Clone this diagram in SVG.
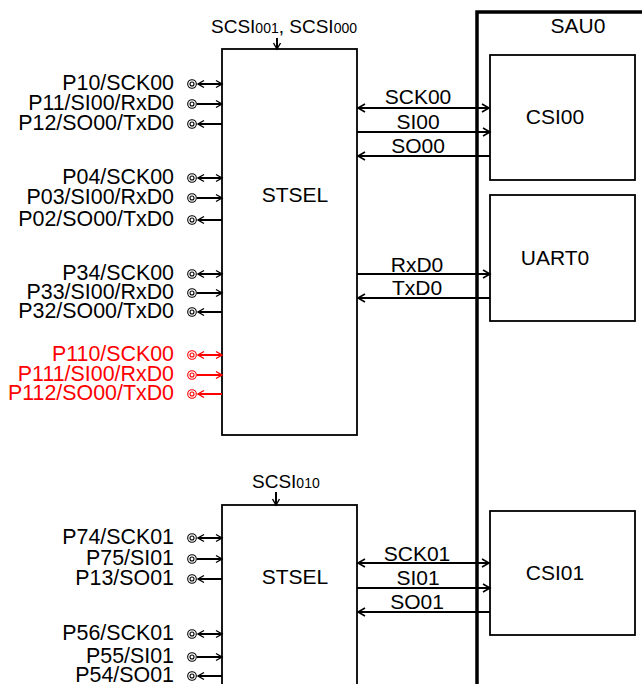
<svg xmlns="http://www.w3.org/2000/svg" width="642" height="684" viewBox="0 0 642 684">
<style>
text{font-family:"Liberation Sans",Arial,sans-serif;font-size:21px;fill:#000}
.pin{text-anchor:end;font-size:21.4px}
.red{fill:#ff0000}
.c{text-anchor:middle}
.box{fill:#fff;stroke:#000;stroke-width:1.8}
.w{stroke:#000;stroke-width:2.2;fill:none}
.pw{stroke:#000;stroke-width:2;fill:none}
.pr{stroke:#ff0000;stroke-width:2;fill:none}
.ring{fill:none;stroke:#000;stroke-width:1.1}
.ringr{fill:none;stroke:#ff0000;stroke-width:1.1}
.sm{font-size:14px}
.lbl{font-size:19px}
</style>
<defs>
<marker id="a" markerUnits="userSpaceOnUse" markerWidth="14" markerHeight="12" viewBox="-8 -6 10 12" refX="0" refY="0" orient="auto-start-reverse"><path d="M-7,-4 L0,0 L-7,4" fill="none" stroke="#000" stroke-width="1.6"/></marker>
<marker id="p" markerUnits="userSpaceOnUse" markerWidth="12" markerHeight="10" viewBox="-7 -5 9 10" refX="0" refY="0" orient="auto-start-reverse"><path d="M-6,-3.5 L0,0 L-6,3.5" fill="none" stroke="#000" stroke-width="1.4"/></marker>
<marker id="pr" markerUnits="userSpaceOnUse" markerWidth="12" markerHeight="10" viewBox="-7 -5 9 10" refX="0" refY="0" orient="auto-start-reverse"><path d="M-6,-3.5 L0,0 L-6,3.5" fill="none" stroke="#ff0000" stroke-width="1.4"/></marker>
</defs>

<g id="sau0">
<path d="M477,684 V12 H642" fill="none" stroke="#000" stroke-width="3.5"/>
<text x="578" y="33" class="c">SAU0</text>
</g>

<g id="stsel0">
<rect x="222" y="49" width="135" height="386" class="box"/>
<text x="295" y="202" class="c">STSEL</text>
</g>
<g id="stsel1">
<rect x="222" y="505" width="135" height="200" class="box"/>
<text x="295" y="584" class="c">STSEL</text>
</g>
<g id="csi00">
<rect x="490" y="55" width="145" height="125" class="box"/>
<text x="555" y="124" class="c">CSI00</text>
</g>
<g id="uart0">
<rect x="490" y="195" width="145" height="126" class="box"/>
<text x="555" y="265" class="c">UART0</text>
</g>
<g id="csi01">
<rect x="490" y="511" width="145" height="124" class="box"/>
<text x="555" y="580" class="c">CSI01</text>
</g>

<g id="sel-labels">
<text x="211" y="33" class="lbl">SCSI<tspan class="sm">001</tspan>, SCSI<tspan class="sm">000</tspan></text>
<text x="252" y="488" class="lbl">SCSI<tspan class="sm">010</tspan></text>
</g>

<g id="pins">
<text x="174" y="90" class="pin">P10/SCK00</text>
<text x="174" y="110" class="pin">P11/SI00/RxD0</text>
<text x="174" y="130" class="pin">P12/SO00/TxD0</text>
<text x="174" y="184" class="pin">P04/SCK00</text>
<text x="174" y="204" class="pin">P03/SI00/RxD0</text>
<text x="174" y="226" class="pin">P02/SO00/TxD0</text>
<text x="174" y="280" class="pin">P34/SCK00</text>
<text x="174" y="299" class="pin">P33/SI00/RxD0</text>
<text x="174" y="318" class="pin">P32/SO00/TxD0</text>
<text x="174" y="361" class="pin red">P110/SCK00</text>
<text x="174" y="381" class="pin red">P111/SI00/RxD0</text>
<text x="174" y="400" class="pin red">P112/SO00/TxD0</text>
<text x="174" y="544" class="pin">P74/SCK01</text>
<text x="174" y="565" class="pin">P75/SI01</text>
<text x="174" y="585" class="pin">P13/SO01</text>
<text x="174" y="640" class="pin">P56/SCK01</text>
<text x="174" y="663" class="pin">P55/SI01</text>
<text x="174" y="682" class="pin">P54/SO01</text>
<g>
<circle cx="192" cy="84" r="4.3" class="ring"/><circle cx="192" cy="84" r="2" class="ring"/>
<circle cx="192" cy="104" r="4.3" class="ring"/><circle cx="192" cy="104" r="2" class="ring"/>
<circle cx="192" cy="124" r="4.3" class="ring"/><circle cx="192" cy="124" r="2" class="ring"/>
<circle cx="192" cy="178" r="4.3" class="ring"/><circle cx="192" cy="178" r="2" class="ring"/>
<circle cx="192" cy="198" r="4.3" class="ring"/><circle cx="192" cy="198" r="2" class="ring"/>
<circle cx="192" cy="220" r="4.3" class="ring"/><circle cx="192" cy="220" r="2" class="ring"/>
<circle cx="192" cy="274" r="4.3" class="ring"/><circle cx="192" cy="274" r="2" class="ring"/>
<circle cx="192" cy="293" r="4.3" class="ring"/><circle cx="192" cy="293" r="2" class="ring"/>
<circle cx="192" cy="312" r="4.3" class="ring"/><circle cx="192" cy="312" r="2" class="ring"/>
<circle cx="192" cy="355" r="4.3" class="ringr"/><circle cx="192" cy="355" r="2" class="ringr"/>
<circle cx="192" cy="375" r="4.3" class="ringr"/><circle cx="192" cy="375" r="2" class="ringr"/>
<circle cx="192" cy="394" r="4.3" class="ringr"/><circle cx="192" cy="394" r="2" class="ringr"/>
<circle cx="192" cy="538" r="4.3" class="ring"/><circle cx="192" cy="538" r="2" class="ring"/>
<circle cx="192" cy="559" r="4.3" class="ring"/><circle cx="192" cy="559" r="2" class="ring"/>
<circle cx="192" cy="579" r="4.3" class="ring"/><circle cx="192" cy="579" r="2" class="ring"/>
<circle cx="192" cy="634" r="4.3" class="ring"/><circle cx="192" cy="634" r="2" class="ring"/>
<circle cx="192" cy="657" r="4.3" class="ring"/><circle cx="192" cy="657" r="2" class="ring"/>
<circle cx="192" cy="676" r="4.3" class="ring"/><circle cx="192" cy="676" r="2" class="ring"/>
</g>
</g>

<g id="connectors">
<line x1="277" y1="38" x2="277" y2="49" class="pw" marker-end="url(#p)"/>
<line x1="276" y1="492" x2="276" y2="505" class="pw" marker-end="url(#p)"/>

<line x1="198" y1="84" x2="222" y2="84" class="pw" marker-start="url(#p)" marker-end="url(#p)"/>
<line x1="197" y1="104" x2="222" y2="104" class="pw" marker-end="url(#p)"/>
<line x1="198" y1="124" x2="222" y2="124" class="pw" marker-start="url(#p)"/>
<line x1="198" y1="178" x2="222" y2="178" class="pw" marker-start="url(#p)" marker-end="url(#p)"/>
<line x1="197" y1="198" x2="222" y2="198" class="pw" marker-end="url(#p)"/>
<line x1="198" y1="220" x2="222" y2="220" class="pw" marker-start="url(#p)"/>
<line x1="198" y1="274" x2="222" y2="274" class="pw" marker-start="url(#p)" marker-end="url(#p)"/>
<line x1="197" y1="293" x2="222" y2="293" class="pw" marker-end="url(#p)"/>
<line x1="198" y1="312" x2="222" y2="312" class="pw" marker-start="url(#p)"/>
<line x1="198" y1="355" x2="222" y2="355" class="pr" marker-start="url(#pr)" marker-end="url(#pr)"/>
<line x1="197" y1="375" x2="222" y2="375" class="pr" marker-end="url(#pr)"/>
<line x1="198" y1="394" x2="222" y2="394" class="pr" marker-start="url(#pr)"/>
<line x1="198" y1="538" x2="222" y2="538" class="pw" marker-start="url(#p)" marker-end="url(#p)"/>
<line x1="197" y1="559" x2="222" y2="559" class="pw" marker-end="url(#p)"/>
<line x1="198" y1="579" x2="222" y2="579" class="pw" marker-start="url(#p)"/>
<line x1="198" y1="634" x2="222" y2="634" class="pw" marker-start="url(#p)" marker-end="url(#p)"/>
<line x1="197" y1="657" x2="222" y2="657" class="pw" marker-end="url(#p)"/>
<line x1="198" y1="676" x2="222" y2="676" class="pw" marker-start="url(#p)"/>

<line x1="358" y1="108" x2="489" y2="108" class="w" marker-start="url(#a)" marker-end="url(#a)"/>
<line x1="357" y1="132" x2="490" y2="132" class="w" marker-end="url(#a)"/>
<line x1="358" y1="156" x2="490" y2="156" class="w" marker-start="url(#a)"/>
<line x1="357" y1="274" x2="490" y2="274" class="w" marker-end="url(#a)"/>
<line x1="358" y1="298" x2="490" y2="298" class="w" marker-start="url(#a)"/>
<line x1="358" y1="563" x2="489" y2="563" class="w" marker-start="url(#a)" marker-end="url(#a)"/>
<line x1="357" y1="588" x2="490" y2="588" class="w" marker-end="url(#a)"/>
<line x1="358" y1="612" x2="490" y2="612" class="w" marker-start="url(#a)"/>

<text x="418" y="104" class="c">SCK00</text>
<text x="418" y="129" class="c">SI00</text>
<text x="418" y="153" class="c">SO00</text>
<text x="417" y="272" class="c">RxD0</text>
<text x="417" y="295" class="c">TxD0</text>
<text x="417" y="561" class="c">SCK01</text>
<text x="418" y="585" class="c">SI01</text>
<text x="417" y="609" class="c">SO01</text>
</g>
</svg>
